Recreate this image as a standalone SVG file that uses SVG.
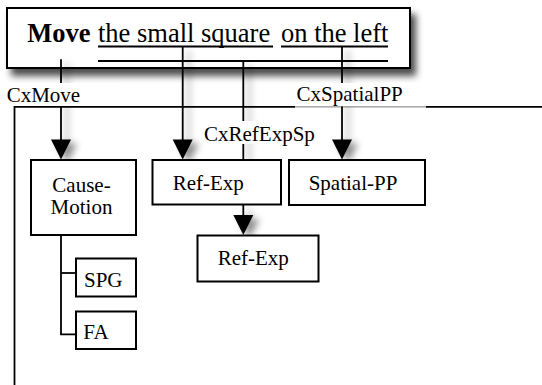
<svg xmlns="http://www.w3.org/2000/svg" width="542" height="385" viewBox="0 0 542 385">
  <defs>
    <filter id="boxShadow" x="-10%" y="-30%" width="130%" height="180%">
      <feDropShadow dx="5" dy="7" stdDeviation="3.5" flood-color="#000" flood-opacity="0.7"/>
    </filter>
    <filter id="lineShadow" x="-200%" y="-50%" width="500%" height="200%">
      <feDropShadow dx="6" dy="4" stdDeviation="3.5" flood-color="#000" flood-opacity="0.45"/>
    </filter>
    <style>
      .t { font-family: "Liberation Serif", "Times New Roman", serif; fill: #000; }
      .big { font-size: 26.5px; }
      .lbl { font-size: 21px; }
      .box { fill: #fff; stroke: #000; stroke-width: 2; }
      .ln { fill: none; stroke: #000; stroke-width: 1.8; }
      .thin { fill: none; stroke: #555; stroke-width: 1; }
      .arrow { fill: #000; stroke: none; }
      .bg { fill: #fff; stroke: none; }
    </style>
  </defs>

  <!-- sentence node -->
  <g id="sentence">
    <rect class="box" x="7" y="8" width="403" height="60" filter="url(#boxShadow)"/>
    <text class="t big" x="27.3" y="41.7" font-weight="bold">Move</text>
    <text class="t big" x="98" y="41.7">the small square</text>
    <text class="t big" x="281" y="41.7">on the left</text>
    <line class="ln" x1="98" y1="46.5" x2="273" y2="46.5" stroke-width="1.5"/>
    <line class="ln" x1="281" y1="46.5" x2="388" y2="46.5" stroke-width="1.5"/>
    <line class="ln" x1="98" y1="61" x2="388" y2="61" stroke-width="2"/>
  </g>

  <!-- connectors -->
  <g id="connectors">
    <path class="ln" d="M14.5 385 V106.8 H295"/>
    <path class="thin" d="M295 106.8 H426"/>
    <path class="ln" d="M426 106.8 H542" stroke-width="2"/>
    <g filter="url(#lineShadow)">
      <path class="ln" d="M61 59.3 V140"/>
      <path class="ln" d="M182.7 46.5 V140"/>
      <path class="ln" d="M243.3 61 V160"/>
      <path class="ln" d="M342 46.5 V140"/>
      <path class="ln" d="M243.3 204.5 V216"/>
      <polygon class="arrow" points="51,139.5 71,139.5 61,159.5"/>
      <polygon class="arrow" points="172.7,139.5 192.7,139.5 182.7,159.5"/>
      <polygon class="arrow" points="332,139.5 352,139.5 342,159.5"/>
      <polygon class="arrow" points="233.3,215 253.3,215 243.3,235"/>
    </g>
    <path class="ln" d="M61 235 V334.3 H76"/>
    <path class="ln" d="M61 273 H76"/>
  </g>

  <!-- construction labels -->
  <g id="label-cxmove">
    <rect class="bg" x="0" y="83" width="121" height="23"/>
    <text class="t lbl" x="6.7" y="101.5">CxMove</text>
  </g>
  <g id="label-cxspatialpp">
    <rect class="bg" x="295" y="83" width="131" height="23.3"/>
    <text class="t lbl" x="296.6" y="101">CxSpatialPP</text>
  </g>
  <g id="label-cxrefexpsp">
    <rect class="bg" x="201" y="121" width="117" height="23"/>
    <text class="t lbl" x="204" y="140.5">CxRefExpSp</text>
  </g>

  <!-- nodes -->
  <g id="cause-motion">
    <rect class="box" x="31" y="160" width="105" height="75"/>
    <text class="t lbl" x="81.5" y="191.5" text-anchor="middle">Cause-</text>
    <text class="t lbl" x="81.5" y="213.5" text-anchor="middle">Motion</text>
  </g>
  <g id="ref-exp-1">
    <rect class="box" x="152.5" y="160" width="128.5" height="44.5"/>
    <text class="t lbl" x="172.7" y="190">Ref-Exp</text>
  </g>
  <g id="spatial-pp">
    <rect class="box" x="289" y="160" width="136" height="45"/>
    <text class="t lbl" x="308.7" y="190">Spatial-PP</text>
  </g>
  <g id="ref-exp-2">
    <rect class="box" x="197.5" y="235.5" width="121" height="46"/>
    <text class="t lbl" x="217.7" y="265">Ref-Exp</text>
  </g>
  <g id="spg">
    <rect class="box" x="76" y="258.5" width="60" height="38"/>
    <text class="t lbl" x="84" y="286.7">SPG</text>
  </g>
  <g id="fa">
    <rect class="box" x="76" y="311.5" width="60" height="37.5"/>
    <text class="t lbl" x="83.3" y="339.3">FA</text>
  </g>
</svg>
